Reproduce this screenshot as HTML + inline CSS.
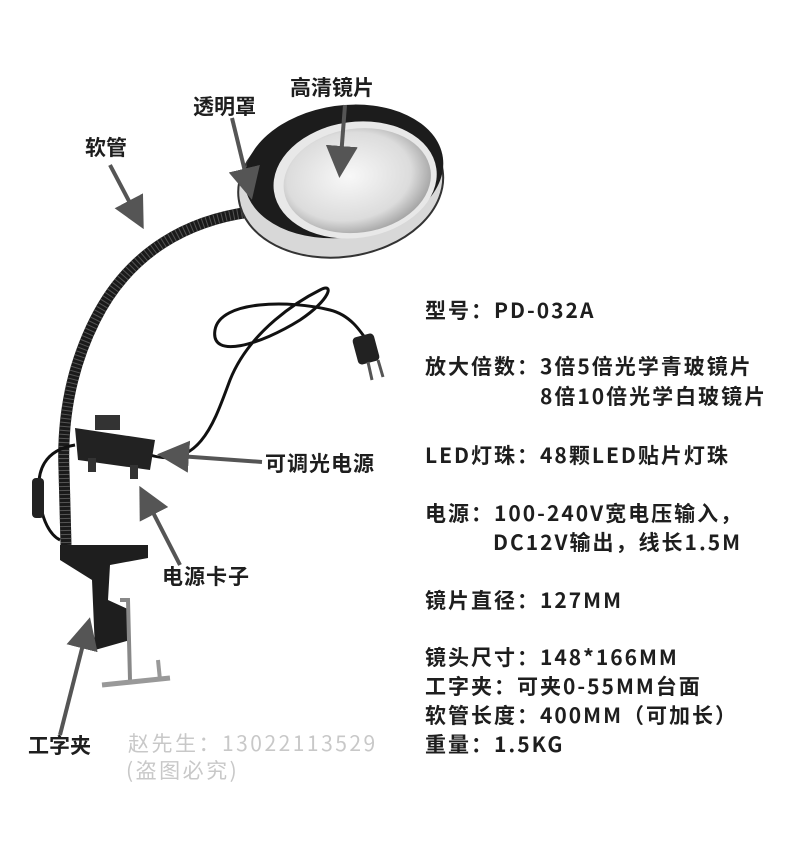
<!DOCTYPE html>
<html><head><meta charset="utf-8"><style>
body{margin:0;background:#fff;}
#c{position:relative;width:790px;height:862px;overflow:hidden;background:#fff;font-family:"Noto Sans CJK SC","Liberation Sans",sans-serif;}
.t{position:absolute;font-weight:bold;font-size:21px;letter-spacing:2px;color:#1e1e1e;white-space:nowrap;line-height:1;}
.w{position:absolute;font-size:21px;letter-spacing:2.5px;color:#c8c8c8;white-space:nowrap;line-height:1;}
svg{position:absolute;left:0;top:0;}
</style></head><body><div id="c">
<svg width="790" height="862" viewBox="0 0 790 862">
<defs>
<radialGradient id="lens" cx="0.45" cy="0.45" r="0.6"><stop offset="0" stop-color="#f8f8f8"/><stop offset="0.7" stop-color="#dcdcdc"/><stop offset="1" stop-color="#9a9a9a"/></radialGradient>
<marker id="ah" markerWidth="8" markerHeight="8" refX="6" refY="4" orient="auto"><path d="M0,0 L8,4 L0,8 z" fill="#555"/></marker>
</defs>
<path d="M250,212 C190,220 130,250 95,320 C70,370 62,420 64,470 L66,545" fill="none" stroke="#1a1a1a" stroke-width="11"/>
<path d="M250,212 C190,220 130,250 95,320 C70,370 62,420 64,470 L66,545" fill="none" stroke="#555" stroke-width="11" stroke-dasharray="1 3"/>
<g transform="rotate(-8 340 180)">
<ellipse cx="340" cy="185" rx="103" ry="72" fill="#d8d8d8" stroke="#333" stroke-width="2"/>
<ellipse cx="345" cy="172" rx="100" ry="66" fill="#1c1c1c"/>
<ellipse cx="355" cy="182" rx="82" ry="58" fill="#e8e8e8"/>
<ellipse cx="357" cy="183" rx="74" ry="52" fill="url(#lens)"/>
</g>
<path d="M150,455 C200,470 215,420 230,380 C250,330 300,300 320,290 C335,282 330,300 300,320 C260,345 210,360 215,330 C220,300 290,300 330,310 C350,315 360,330 370,345" fill="none" stroke="#111" stroke-width="3"/>
<rect x="355" y="335" width="22" height="28" rx="4" fill="#222" transform="rotate(-15 366 349)"/>
<path d="M368,362 L372,380 M378,360 L383,377" stroke="#555" stroke-width="3"/>
<path d="M75,445 C45,450 35,470 40,500 C42,520 50,535 60,540" fill="none" stroke="#111" stroke-width="3"/>
<rect x="32" y="478" width="12" height="40" rx="4" fill="#222"/>
<path d="M75,428 L155,440 L150,470 L78,460 z" fill="#222"/>
<rect x="95" y="415" width="25" height="15" fill="#333"/>
<rect x="88" y="458" width="8" height="14" fill="#333"/><rect x="130" y="465" width="8" height="14" fill="#333"/>
<path d="M60,545 L148,545 L148,558 L110,565 L108,600 L130,610 L130,640 L95,650 L92,580 L60,560 z" fill="#1e1e1e"/>
<path d="M120,600 L128,600 L130,680" stroke="#888" stroke-width="4" fill="none"/>
<path d="M102,685 L170,678" stroke="#999" stroke-width="5"/>
<path d="M158,660 L160,680" stroke="#999" stroke-width="4"/>
<g stroke="#555" stroke-width="4" fill="none" marker-end="url(#ah)">
<path d="M110,165 L140,222"/>
<path d="M232,118 L250,192"/>
<path d="M345,105 L340,170"/>
<path d="M262,462 L165,455"/>
<path d="M180,565 L143,493"/>
<path d="M60,735 L88,625"/>
</g>
</svg>
<div class="t" style="left:290px;top:77px;letter-spacing:0">高清镜片</div>
<div class="t" style="left:193px;top:96px;letter-spacing:0">透明罩</div>
<div class="t" style="left:85px;top:137px;letter-spacing:0">软管</div>
<div class="t" style="left:265px;top:453px;letter-spacing:1px">可调光电源</div>
<div class="t" style="left:162px;top:566px;letter-spacing:1px">电源卡子</div>
<div class="t" style="left:28px;top:735px;letter-spacing:0">工字夹</div>
<div class="w" style="left:128px;top:733px">赵先生：13022113529</div>
<div class="w" style="left:126px;top:760px">(盗图必究)</div>
<div class="t" style="left:425px;top:300px">型号：PD-032A</div>
<div class="t" style="left:425px;top:356px">放大倍数：3倍5倍光学青玻镜片</div>
<div class="t" style="left:540px;top:386px">8倍10倍光学白玻镜片</div>
<div class="t" style="left:425px;top:445px">LED灯珠：48颗LED贴片灯珠</div>
<div class="t" style="left:425px;top:503px">电源：100-240V宽电压输入，</div>
<div class="t" style="left:493px;top:532px">DC12V输出，线长1.5M</div>
<div class="t" style="left:425px;top:590px">镜片直径：127MM</div>
<div class="t" style="left:425px;top:647px">镜头尺寸：148*166MM</div>
<div class="t" style="left:425px;top:676px">工字夹：可夹0-55MM台面</div>
<div class="t" style="left:425px;top:705px">软管长度：400MM（可加长）</div>
<div class="t" style="left:425px;top:734px">重量：1.5KG</div>
</div></body></html>
